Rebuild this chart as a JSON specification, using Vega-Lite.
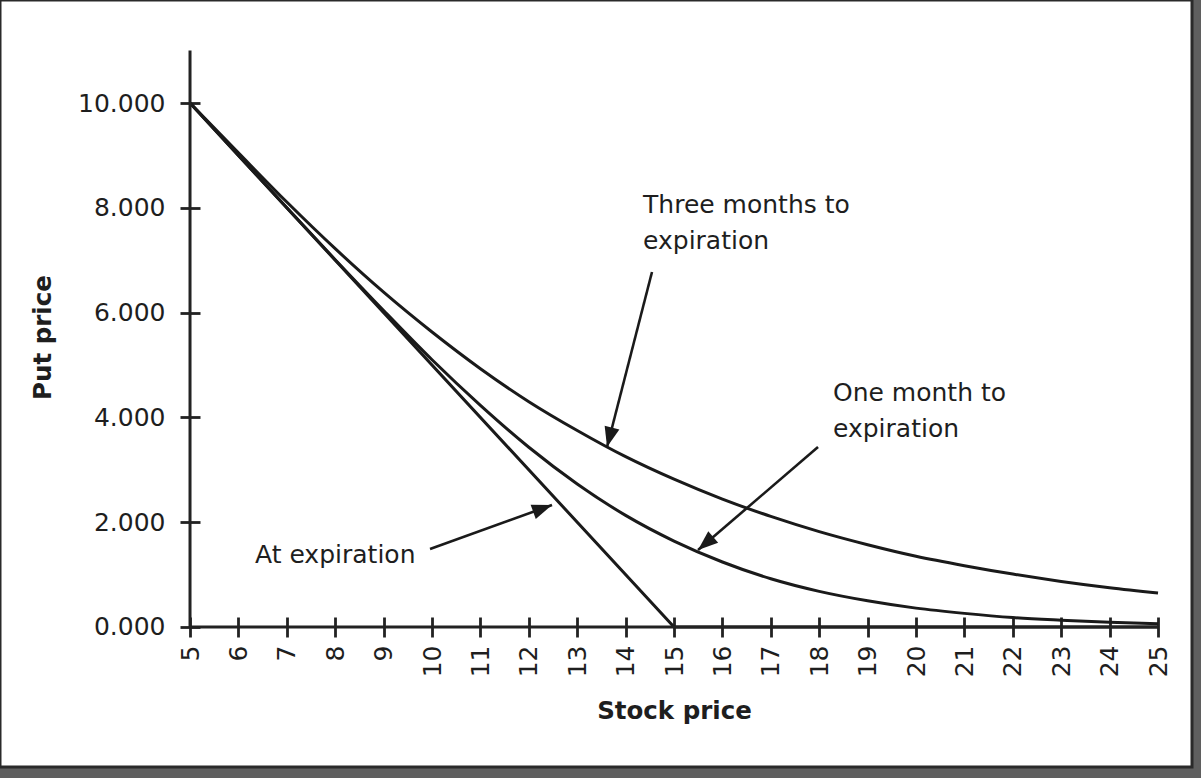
{
  "$schema": "https://vega.github.io/schema/vega-lite/v6.json",
  "width": 1192,
  "height": 767,
  "autosize": {"type": "none"},
  "padding": {"left": 0, "top": 0, "right": 9, "bottom": 11},
  "background": "#5f5f5f",
  "config": {
    "view": {"fill": "white", "stroke": "#2a2a2a", "strokeWidth": 3},
    "font": "DejaVu Sans"
  },
  "datasets": {
    "curves": [
      {"series": "Three months", "S": 5, "P": 10.0},
      {"series": "Three months", "S": 6, "P": 9.05},
      {"series": "Three months", "S": 7, "P": 8.11},
      {"series": "Three months", "S": 8, "P": 7.22},
      {"series": "Three months", "S": 9, "P": 6.39},
      {"series": "Three months", "S": 10, "P": 5.63},
      {"series": "Three months", "S": 11, "P": 4.93},
      {"series": "Three months", "S": 12, "P": 4.30},
      {"series": "Three months", "S": 13, "P": 3.75},
      {"series": "Three months", "S": 14, "P": 3.25},
      {"series": "Three months", "S": 15, "P": 2.82},
      {"series": "Three months", "S": 16, "P": 2.44},
      {"series": "Three months", "S": 17, "P": 2.11},
      {"series": "Three months", "S": 18, "P": 1.82},
      {"series": "Three months", "S": 19, "P": 1.57},
      {"series": "Three months", "S": 20, "P": 1.35},
      {"series": "Three months", "S": 21, "P": 1.17},
      {"series": "Three months", "S": 22, "P": 1.01},
      {"series": "Three months", "S": 23, "P": 0.87},
      {"series": "Three months", "S": 24, "P": 0.75},
      {"series": "Three months", "S": 25, "P": 0.65},
      {"series": "One month", "S": 5, "P": 10.0},
      {"series": "One month", "S": 6, "P": 9.0},
      {"series": "One month", "S": 7, "P": 8.0},
      {"series": "One month", "S": 8, "P": 7.01},
      {"series": "One month", "S": 9, "P": 6.04},
      {"series": "One month", "S": 10, "P": 5.10},
      {"series": "One month", "S": 11, "P": 4.23},
      {"series": "One month", "S": 12, "P": 3.43},
      {"series": "One month", "S": 13, "P": 2.73},
      {"series": "One month", "S": 14, "P": 2.13},
      {"series": "One month", "S": 15, "P": 1.64},
      {"series": "One month", "S": 16, "P": 1.24},
      {"series": "One month", "S": 17, "P": 0.92},
      {"series": "One month", "S": 18, "P": 0.68},
      {"series": "One month", "S": 19, "P": 0.50},
      {"series": "One month", "S": 20, "P": 0.36},
      {"series": "One month", "S": 21, "P": 0.26},
      {"series": "One month", "S": 22, "P": 0.18},
      {"series": "One month", "S": 23, "P": 0.13},
      {"series": "One month", "S": 24, "P": 0.09},
      {"series": "One month", "S": 25, "P": 0.06}
    ],
    "expiry": [
      {"series": "At expiration", "S": 5, "P": 10.0},
      {"series": "At expiration", "S": 15, "P": 0.0},
      {"series": "At expiration", "S": 25, "P": 0.0}
    ],
    "labels": [
      {"S": 14.36, "P": 7.90, "text": "Three months to\nexpiration"},
      {"S": 18.285, "P": 4.313, "text": "One month to\nexpiration"},
      {"S": 6.343, "P": 1.221, "text": "At expiration"}
    ],
    "arrows": [
      {"name": "Three months", "S0": 14.545, "P0": 6.775, "S1": 13.616, "P1": 3.435},
      {"name": "One month", "S0": 17.975, "P0": 3.435, "S1": 15.496, "P1": 1.469},
      {"name": "At expiration", "S0": 9.959, "P0": 1.489, "S1": 12.479, "P1": 2.328}
    ],
    "one": [{}]
  },
  "encoding": {
    "x": {
      "type": "quantitative",
      "scale": {"domain": [1.074, 25.702], "nice": false, "zero": false},
      "axis": {
        "values": [5, 6, 7, 8, 9, 10, 11, 12, 13, 14, 15, 16, 17, 18, 19, 20, 21, 22, 23, 24, 25],
        "offset": -150, "domain": false, "grid": false,
        "tickSize": 20, "tickWidth": 2.8, "tickColor": "#222",
        "labelAngle": -90, "labelPadding": 8, "labelFontSize": 25, "labelColor": "#1e1e1e",
        "labelFlush": false, "labelOverlap": false,
        "title": "Stock price", "titleFontSize": 24.5, "titleFontWeight": "bold", "titleColor": "#1e1e1e",
        "titleX": 674, "titleY": 94, "titleAlign": "center", "titleBaseline": "middle"
      }
    },
    "y": {
      "type": "quantitative",
      "scale": {"domain": [-2.672, 11.966], "nice": false, "zero": false},
      "axis": {
        "values": [0, 2, 4, 6, 8, 10], "format": ".3f",
        "offset": -200, "domain": false, "grid": false,
        "tickSize": 20, "tickWidth": 2.8, "tickColor": "#222",
        "labelPadding": 15, "labelFontSize": 25, "labelColor": "#1e1e1e",
        "labelFlush": false, "labelOverlap": false,
        "title": "Put price", "titleFontSize": 24.5, "titleFontWeight": "bold", "titleColor": "#1e1e1e",
        "titleX": -157, "titleY": 337, "titleAngle": -90, "titleAlign": "center", "titleBaseline": "middle"
      }
    }
  },
  "layer": [
    {
      "data": {"name": "curves"},
      "mark": {"type": "line", "interpolate": "monotone", "color": "#1a1a1a", "strokeWidth": 3},
      "encoding": {
        "x": {"field": "S"},
        "y": {"field": "P"},
        "detail": {"field": "series", "type": "nominal"}
      }
    },
    {
      "data": {"name": "expiry"},
      "mark": {"type": "line", "interpolate": "linear", "color": "#1a1a1a", "strokeWidth": 3},
      "encoding": {
        "x": {"field": "S"},
        "y": {"field": "P"}
      }
    },
    {
      "data": {"name": "one"},
      "mark": {"type": "rule", "color": "#222", "strokeWidth": 3},
      "encoding": {
        "x": {"datum": 5},
        "x2": {"datum": 25},
        "y": {"datum": 0}
      }
    },
    {
      "data": {"name": "one"},
      "mark": {"type": "rule", "color": "#222", "strokeWidth": 3},
      "encoding": {
        "x": {"datum": 5},
        "y": {"datum": 0},
        "y2": {"datum": 11}
      }
    },
    {
      "data": {"name": "labels"},
      "mark": {"type": "text", "align": "left", "baseline": "alphabetic", "fontSize": 25, "font": "DejaVu Sans", "color": "#1e1e1e", "lineBreak": "\n", "lineHeight": 36},
      "encoding": {
        "x": {"field": "S"},
        "y": {"field": "P"},
        "text": {"field": "text", "type": "nominal"}
      }
    },
    {
      "data": {"name": "arrows"},
      "mark": {"type": "rule", "color": "#1a1a1a", "strokeWidth": 2.6},
      "encoding": {
        "x": {"field": "S0"},
        "y": {"field": "P0"},
        "x2": {"field": "S1"},
        "y2": {"field": "P1"}
      }
    },
    {
      "data": {"name": "arrows"},
      "transform": [{"filter": "datum.name === 'Three months'"}],
      "mark": {"type": "point", "shape": "M0,0L-0.38,1L0.38,1Z", "size": 1600, "filled": true, "color": "#1a1a1a", "opacity": 1, "angle": 194.4},
      "encoding": {"x": {"field": "S1"}, "y": {"field": "P1"}}
    },
    {
      "data": {"name": "arrows"},
      "transform": [{"filter": "datum.name === 'One month'"}],
      "mark": {"type": "point", "shape": "M0,0L-0.38,1L0.38,1Z", "size": 1600, "filled": true, "color": "#1a1a1a", "opacity": 1, "angle": 229.4},
      "encoding": {"x": {"field": "S1"}, "y": {"field": "P1"}}
    },
    {
      "data": {"name": "arrows"},
      "transform": [{"filter": "datum.name === 'At expiration'"}],
      "mark": {"type": "point", "shape": "M0,0L-0.38,1L0.38,1Z", "size": 1600, "filled": true, "color": "#1a1a1a", "opacity": 1, "angle": 70.2},
      "encoding": {"x": {"field": "S1"}, "y": {"field": "P1"}}
    }
  ]
}
